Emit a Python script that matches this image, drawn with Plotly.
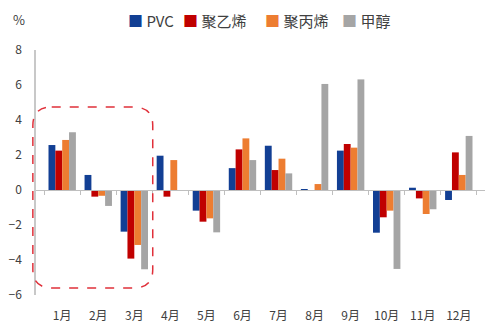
import plotly.graph_objects as go

months = ["1月", "2月", "3月", "4月", "5月", "6月", "7月", "8月", "9月", "10月", "11月", "12月"]
pvc = [2.57, 0.86, -2.38, 1.96, -1.18, 1.25, 2.53, 0.05, 2.25, -2.44, 0.13, -0.57]
pe = [2.25, -0.38, -3.92, -0.38, -1.81, 2.32, 1.14, 0.0, 2.63, -1.56, -0.48, 2.15]
pp = [2.86, -0.33, -3.14, 1.71, -1.62, 2.95, 1.79, 0.34, 2.42, -1.18, -1.37, 0.86]
meoh = [3.30, -0.91, -4.53, 0.0, -2.42, 1.71, 0.95, 6.06, 6.32, -4.51, -1.10, 3.09]

series = [("PVC", pvc, "#123F94"), ("聚乙烯", pe, "#C00000"),
          ("聚丙烯", pp, "#ED7D31"), ("甲醇", meoh, "#A5A5A5")]
legend_x = [128, 183, 265, 342]

FONT = "Noto Sans CJK SC"
L, R, T, B = 36, 15, 50, 38
PW, PH = 500 - L - R, 333 - T - B

fig = go.Figure()
for name, vals, col in series:
    fig.add_trace(go.Bar(x=months, y=vals, name=name, marker_color=col,
                         marker_line_width=0, showlegend=False))

# legend drawn as text annotations
for (name, vals, col), px in zip(series, legend_x):
    fig.add_annotation(text=f"<span style='color:{col}'>■</span> {name}",
                       xref="paper", yref="paper", x=(px - 2 - L) / PW,
                       y=(333 - B - 20) / PH, xanchor="left", yanchor="middle",
                       showarrow=False,
                       font=dict(family=FONT, size=15, color="#404040"))

# dashed rounded box in paper coords
x0, x1, y0, y1 = -0.007, 0.26, 0.029, 0.767
rx, ry = 0.042, 0.075
path = (f"M {x0+rx},{y1} L {x1-rx},{y1} Q {x1},{y1} {x1},{y1-ry} "
        f"L {x1},{y0+ry} Q {x1},{y0} {x1-rx},{y0} L {x0+rx},{y0} "
        f"Q {x0},{y0} {x0},{y0+ry} L {x0},{y1-ry} Q {x0},{y1} {x0+rx},{y1} Z")
fig.add_shape(type="path", path=path, xref="paper", yref="paper",
              line=dict(color="#E0303A", width=1.5, dash="dash"))

fig.add_annotation(text="%", xref="paper", yref="paper", x=(19 - L) / PW,
                   y=(333 - B - 19) / PH,
                   xanchor="center", yanchor="middle", showarrow=False,
                   font=dict(family=FONT, size=13, color="#404040"))

fig.update_layout(
    width=500, height=333,
    margin=dict(l=L, r=R, t=T, b=B),
    paper_bgcolor="white", plot_bgcolor="white",
    barmode="group", bargap=0.24, bargroupgap=0,
    font=dict(family=FONT, color="#404040"),
    showlegend=False,
    xaxis=dict(showline=False, ticks="", showgrid=False, zeroline=False,
               ticklabelstandoff=12, automargin=False,
               tickfont=dict(size=12, color="#404040")),
    xaxis2=dict(matches="x", overlaying="x", anchor="free", position=6/14,
                showline=True, linecolor="#BFBFBF", linewidth=1,
                ticks="outside", tickson="boundaries", ticklen=4,
                tickcolor="#BFBFBF", showticklabels=False, showgrid=False,
                zeroline=False, automargin=False),
    yaxis=dict(range=[-6, 8], dtick=2, showgrid=False, zeroline=False,
               showline=True, linecolor="#C8C8C8", linewidth=1.5,
               ticks="", ticklabelstandoff=10, automargin=False,
               tickfont=dict(size=12, color="#404040")),
)
fig.add_trace(go.Scatter(x=months, y=[None]*12, xaxis="x2", showlegend=False,
                         hoverinfo="skip", mode="markers"))

fig.write_html("out.html")
